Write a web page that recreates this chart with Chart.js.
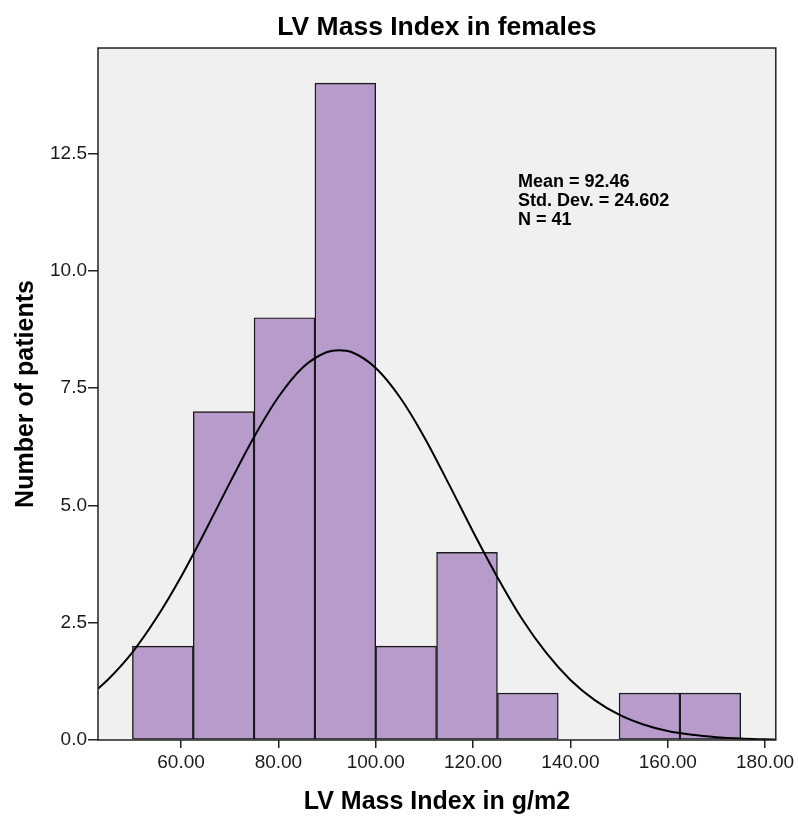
<!DOCTYPE html>
<html>
<head>
<meta charset="utf-8">
<title>LV Mass Index in females</title>
<script src="https://cdn.jsdelivr.net/npm/chart.js@4.4.1/dist/chart.umd.min.js"></script>
<style>
  html, body { margin: 0; padding: 0; background: #ffffff; }
  #wrap { width: 798px; height: 818px; position: relative; }
</style>
</head>
<body>
<div id="wrap"><canvas id="chart"></canvas></div>
<script>
// Histogram bins (lower edges, g/m2) and patient counts per bin
const binStarts = [50, 62.5, 75, 87.5, 100, 112.5, 125, 137.5, 150, 162.5];
const binCounts = [2, 7, 9, 14, 2, 4, 1, 0, 1, 1];
const binWidth = 12.5;

// Fitted normal curve, sampled along the axis
const curveX = [43, 45, 50, 55, 60, 65, 70, 75, 80, 85, 90, 92.46, 95, 100, 105, 110, 115, 120, 125, 130, 135, 140, 145, 150, 155, 160, 165, 170, 175, 180, 182];
const curveY = [1.10, 1.29, 1.87, 2.61, 3.48, 4.46, 5.48, 6.46, 7.31, 7.94, 8.27, 8.31, 8.27, 7.93, 7.30, 6.45, 5.46, 4.44, 3.47, 2.59, 1.86, 1.28, 0.85, 0.54, 0.33, 0.19, 0.11, 0.06, 0.03, 0.015, 0.01];

// Axis ticks
const xTickValues = [60, 80, 100, 120, 140, 160, 180];
const yTickValues = [0, 2.5, 5, 7.5, 10, 12.5];

// Summary statistics
const meanValue = 92.46;
const stdDevValue = 24.602;
const nValue = 41;

const FONT = '"Liberation Sans", Arial, Helvetica, sans-serif';
const INK = '#1a1a1a';

const barPoints = binStarts.map((s, i) => ({ x: s + binWidth / 2, y: binCounts[i] }));
const curvePoints = curveX.map((x, i) => ({ x: x, y: curveY[i] }));

// Grey plot background and the box around the plot area
const plotFrame = {
  id: 'plotFrame',
  beforeDatasetsDraw(chart) {
    const { ctx, chartArea: a } = chart;
    ctx.save();
    ctx.fillStyle = '#f0f0f0';
    ctx.fillRect(a.left, a.top, a.right - a.left, a.bottom - a.top);
    ctx.restore();
  },
  afterDatasetsDraw(chart) {
    const { ctx, chartArea: a } = chart;
    ctx.save();
    ctx.strokeStyle = '#222';
    ctx.lineWidth = 1.5;
    ctx.strokeRect(a.left, a.top, a.right - a.left, a.bottom - a.top);
    ctx.restore();
  }
};

// Statistics text block inside the plot
const statsBox = {
  id: 'statsBox',
  afterDraw(chart) {
    const { ctx, chartArea: a } = chart;
    const lines = [
      'Mean = ' + meanValue.toFixed(2),
      'Std. Dev. = ' + stdDevValue.toFixed(3),
      'N = ' + nValue
    ];
    ctx.save();
    ctx.fillStyle = '#000';
    ctx.font = 'bold 18px ' + FONT;
    ctx.textAlign = 'left';
    ctx.textBaseline = 'alphabetic';
    const x = a.left + 420;
    const y0 = a.top + 139;
    lines.forEach((t, i) => ctx.fillText(t, x, y0 + i * 19));
    ctx.restore();
  }
};

new Chart(document.getElementById('chart'), {
  type: 'bar',
  data: {
    datasets: [
      {
        type: 'line',
        data: curvePoints,
        borderColor: '#000',
        borderWidth: 2,
        pointRadius: 0,
        fill: false,
        cubicInterpolationMode: 'monotone',
        order: 0
      },
      {
        type: 'bar',
        data: barPoints,
        backgroundColor: '#b79bca',
        borderColor: '#1a1a1a',
        borderWidth: 1.4,
        borderSkipped: false,
        barPercentage: 1,
        categoryPercentage: 1,
        grouped: false,
        order: 1
      }
    ]
  },
  options: {
    responsive: true,
    maintainAspectRatio: false,
    animation: false,
    events: [],
    layout: { padding: { left: 0, right: 20, top: 0, bottom: 0 } },
    plugins: {
      legend: { display: false },
      tooltip: { enabled: false },
      title: {
        display: true,
        text: 'LV Mass Index in females',
        fullSize: false,
        color: '#000',
        font: { family: FONT, size: 26.5, weight: 'bold', lineHeight: 1.2 },
        padding: { top: 12.1, bottom: 4.1 }
      }
    },
    scales: {
      x: {
        type: 'linear',
        min: 42.93,
        max: 182.2,
        offset: false,
        afterBuildTicks: (s) => { s.ticks = xTickValues.map(v => ({ value: v })); },
        afterFit: (s) => { s.height = 78; },
        ticks: {
          color: INK,
          font: { family: FONT, size: 19 },
          padding: 3.5,
          maxRotation: 0,
          autoSkip: false,
          callback: (v) => Number(v).toFixed(2)
        },
        grid: {
          display: true,
          offset: false,
          drawOnChartArea: false,
          drawTicks: true,
          tickLength: 8,
          color: '#222',
          lineWidth: 1.5
        },
        border: { display: false },
        title: {
          display: true,
          text: 'LV Mass Index in g/m2',
          color: '#000',
          font: { family: FONT, size: 25, weight: 'bold', lineHeight: 1.2 },
          padding: { top: 0, bottom: 1 }
        }
      },
      y: {
        type: 'linear',
        min: 0,
        max: 14.75,
        afterBuildTicks: (s) => { s.ticks = yTickValues.map(v => ({ value: v })); },
        afterFit: (s) => { s.width = 98; },
        ticks: {
          color: INK,
          font: { family: FONT, size: 19 },
          padding: 1,
          autoSkip: false,
          callback: (v) => Number(v).toFixed(1)
        },
        grid: {
          display: true,
          drawOnChartArea: false,
          drawTicks: true,
          tickLength: 10,
          color: '#222',
          lineWidth: 1.5
        },
        border: { display: false },
        title: {
          display: true,
          text: 'Number of patients',
          color: '#000',
          font: { family: FONT, size: 25, weight: 'bold', lineHeight: 1.2 },
          padding: { top: 11, bottom: 0 }
        }
      }
    }
  },
  plugins: [plotFrame, statsBox]
});
</script>
</body>
</html>
